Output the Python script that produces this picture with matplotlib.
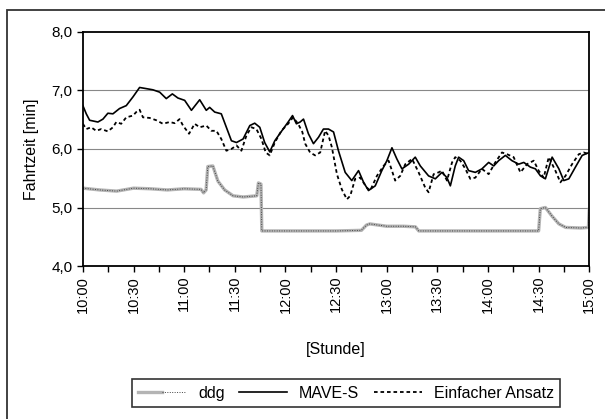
import matplotlib
matplotlib.use("Agg")
import matplotlib.pyplot as plt
from matplotlib.patches import Rectangle
from matplotlib.legend_handler import HandlerTuple

plt.rcParams['font.family'] = ['Liberation Sans', 'DejaVu Sans']

# minutes after 10:00
mave_t = [0, 2, 4, 8.9, 11.9, 14.8, 17.8, 21.7, 25.7, 29.7, 33.6, 37.6, 41.5, 45.5, 49.4,
          53, 56.3, 60.3, 64.3, 69.2, 73.1, 75.1, 78.1, 82, 85, 88, 91, 94.9, 98.9, 101.8,
          104.8, 107.7, 110.7, 113.7, 118.6, 121.6, 124.2, 126.5, 128.7, 130.7, 133.6,
          136.6, 139.6, 142.5, 145.5, 148.5, 151.4, 155.4, 159.3, 163.3, 166.3, 169.2,
          173.2, 177.1, 180.1, 183.1, 186, 189, 193, 196.9, 199.9, 204.8, 208.8, 212.7,
          215.7, 217.7, 220.6, 222.6, 225.6, 228.5, 232.5, 236.4, 240.4, 243.4, 246.3,
          250.3, 254.2, 258.2, 261.2, 265.1, 268.1, 271.1, 274, 278, 282, 284.9, 287.9,
          291.8, 295.8, 300]
mave_v = [6.74, 6.60, 6.49, 6.46, 6.51, 6.61, 6.60, 6.69, 6.74, 6.89, 7.05, 7.03, 7.01,
          6.97, 6.86, 6.94, 6.87, 6.83, 6.66, 6.84, 6.66, 6.71, 6.63, 6.60, 6.37, 6.14,
          6.11, 6.17, 6.40, 6.44, 6.37, 6.11, 5.95, 6.14, 6.34, 6.46, 6.57, 6.43, 6.46,
          6.51, 6.26, 6.09, 6.20, 6.34, 6.34, 6.29, 5.97, 5.60, 5.46, 5.63, 5.43, 5.29,
          5.37, 5.63, 5.80, 6.02, 5.83, 5.66, 5.74, 5.86, 5.71, 5.54, 5.49, 5.60, 5.51,
          5.37, 5.71, 5.86, 5.80, 5.63, 5.60, 5.66, 5.77, 5.71, 5.80, 5.89, 5.80, 5.74,
          5.77, 5.69, 5.66, 5.54, 5.49, 5.86, 5.66, 5.46, 5.49, 5.69, 5.89, 5.94]

einf_t = [0, 2, 4.9, 7.9, 10.9, 14.8, 17.8, 19.8, 22.7, 25.7, 29.7, 31.6, 33.6, 35.6,
          39.5, 43.5, 47.4, 51.4, 54.4, 57.3, 59.3, 62.9, 66.2, 69.2, 73.1, 76.1, 79.1,
          82, 85, 88, 91, 93.9, 96.9, 99.8, 102.8, 105.8, 108.3, 110.7, 113.7, 117.6,
          121.6, 124.5, 127.5, 130, 131.7, 134.6, 137.6, 140.6, 143.5, 145.5, 147.5,
          150.5, 153.4, 156.4, 158.4, 161.3, 164.3, 168.2, 170.2, 174.2, 178.1, 181.1,
          183.1, 185, 188, 191, 195, 198.9, 202.8, 204.8, 207.8, 210.7, 212.7, 215.7,
          218.7, 220.6, 223.6, 226.6, 229.5, 232.5, 236.4, 240.4, 244.3, 248.3, 251.3,
          255.2, 259.2, 263.1, 267.1, 270, 273, 276, 279.9, 282.9, 285.9, 289.8, 293.8,
          296.7, 300]
einf_v = [6.43, 6.34, 6.37, 6.31, 6.34, 6.30, 6.37, 6.46, 6.43, 6.54, 6.57, 6.63, 6.67,
          6.54, 6.53, 6.49, 6.43, 6.46, 6.44, 6.51, 6.40, 6.26, 6.43, 6.37, 6.40, 6.31,
          6.31, 6.17, 5.97, 6.00, 6.06, 5.97, 6.23, 6.37, 6.34, 6.17, 5.94, 5.89, 6.11,
          6.31, 6.43, 6.54, 6.43, 6.29, 6.09, 5.94, 5.89, 5.94, 6.31, 6.23, 6.03, 5.57,
          5.31, 5.14, 5.20, 5.49, 5.51, 5.34, 5.29, 5.54, 5.71, 5.80, 5.63, 5.46, 5.54,
          5.74, 5.83, 5.60, 5.34, 5.26, 5.57, 5.60, 5.63, 5.46, 5.77, 5.86, 5.80, 5.66,
          5.49, 5.51, 5.66, 5.57, 5.77, 5.94, 5.91, 5.86, 5.60, 5.74, 5.80, 5.63, 5.51,
          5.86, 5.63, 5.43, 5.54, 5.74, 5.91, 5.94, 5.91]

ddg_t = [0, 10, 20, 30, 40, 50, 60, 70, 71.5, 73, 74, 77, 80, 84, 89, 95, 103, 104,
         105.5, 106, 130, 150, 165, 168, 170, 180, 190, 197, 199, 230, 260, 270, 271,
         274, 278, 282, 286, 295, 299.5, 300]
ddg_v = [5.33, 5.30, 5.28, 5.33, 5.32, 5.30, 5.32, 5.31, 5.25, 5.30, 5.70, 5.71, 5.45,
         5.30, 5.20, 5.18, 5.20, 5.42, 5.40, 4.60, 4.60, 4.60, 4.61, 4.70, 4.72, 4.68,
         4.68, 4.67, 4.60, 4.60, 4.60, 4.60, 4.98, 5.00, 4.85, 4.72, 4.66, 4.65, 4.66,
         4.97]

tick_labels = ["10:00", "10:30", "11:00", "11:30", "12:00", "12:30",
               "13:00", "13:30", "14:00", "14:30", "15:00"]
y_ticks = [4.0, 5.0, 6.0, 7.0, 8.0]

fig = plt.figure(figsize=(6.05, 4.19), dpi=100)
ax = fig.add_axes([0.137, 0.365, 0.837, 0.559])

# outer chart frame (cut off at right and bottom)
fig.patches.append(Rectangle((7 / 605, -0.05), 1.1, 1 - 10 / 419 + 0.05,
                             transform=fig.transFigure, fill=False,
                             edgecolor="#333333", lw=1.3))

for y in y_ticks[1:-1]:
    ax.axhline(y, color="#888888", lw=0.8, zorder=1)

ddg_a, = ax.plot(ddg_t, ddg_v, color="#b4b4b4", lw=2.4, zorder=2)
ddg_b, = ax.plot(ddg_t, ddg_v, color="#444444", lw=0.7, ls=(0, (1, 1.5)), zorder=2)
mave_l, = ax.plot(mave_t, mave_v, color="black", lw=1.2, zorder=4)
einf_l, = ax.plot(einf_t, einf_v, color="black", lw=1.3, ls=(0, (2, 1.6)), zorder=3)

ax.set_xlim(0, 300)
ax.set_ylim(4, 8)
ax.set_xticks(range(0, 301, 30))
ax.set_xticks(range(0, 301, 15), minor=True)
ax.set_xticklabels(tick_labels, rotation=90, fontsize=10.5)
ax.set_yticks(y_ticks)
ax.set_yticklabels([f"{v:.1f}".replace(".", ",") for v in y_ticks], fontsize=11)
ax.tick_params(axis="both", which="both", direction="out", length=4, width=1)
ax.tick_params(axis="x", which="major", pad=3)
for s in ax.spines.values():
    s.set_linewidth(1.3)
    s.set_color("black")

ax.set_ylabel("Fahrtzeit [min]", fontsize=11.5, labelpad=9)
ax.set_xlabel("[Stunde]", fontsize=11.5, labelpad=21)

leg = fig.legend([(ddg_a, ddg_b), mave_l, einf_l],
                 ["ddg", "MAVE-S", "Einfacher Ansatz"],
                 handler_map={tuple: HandlerTuple(ndivide=None, pad=0)},
                 loc="center", bbox_to_anchor=(346 / 605, 1 - 393 / 419),
                 ncol=3, fontsize=11.5, frameon=True, fancybox=False,
                 edgecolor="black", handlelength=3, columnspacing=0.9,
                 handletextpad=0.75, borderpad=0.4)
leg.get_frame().set_linewidth(1.2)

fig.savefig("out.png", dpi=100)
